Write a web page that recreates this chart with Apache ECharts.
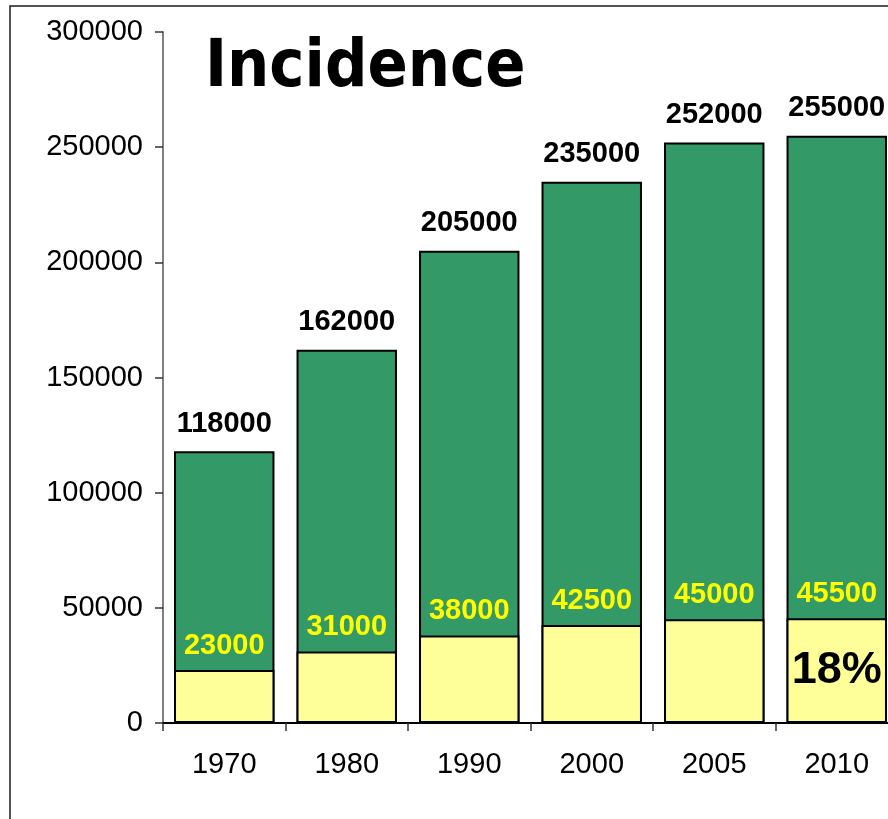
<!DOCTYPE html>
<html>
<head>
<meta charset="utf-8">
<script src="https://cdn.jsdelivr.net/npm/echarts@6/dist/echarts.min.js"></script>
<style>
html,body{margin:0;padding:0;background:#fff;}
#main{width:888px;height:819px;}
</style>
</head>
<body>
<div id="main"></div>
<script>
const years = ['1970', '1980', '1990', '2000', '2005', '2010'];
const totalCases = [118000, 162000, 205000, 235000, 252000, 255000];
const subsetCases = [23000, 31000, 38000, 42500, 45000, 45500];
const shareLabels = ['', '', '', '', '', '18%'];
const yTicks = [0, 50000, 100000, 150000, 200000, 250000, 300000];

const chart = echarts.init(document.getElementById('main'));
const lblFont = '"Liberation Sans", Arial, sans-serif';
chart.setOption({
  animation: false,
  backgroundColor: '#ffffff',
  graphic: [
    {
      type: 'rect',
      shape: { x: 10, y: 6, width: 1000, height: 1000 },
      style: { fill: 'none', stroke: '#1a1a1a', lineWidth: 1.5 },
      silent: true,
      z: 100
    },
    {
      type: 'text',
      x: 205,
      y: 69,
      style: {
        text: 'Incidence',
        fontFamily: '"DejaVu Sans Condensed", "DejaVu Sans", sans-serif',
        fontWeight: 'bold',
        fontSize: 66,
        fill: '#000',
        verticalAlign: 'middle',
        align: 'left'
      },
      z: 100
    }
  ],
  grid: { left: 163, top: 32, bottom: 96, width: 735, containLabel: false, outerBoundsMode: 'none' },
  xAxis: {
    type: 'category',
    data: years,
    axisLine: { lineStyle: { color: '#000', width: 2 } },
    axisTick: { show: true, length: 8, lineStyle: { color: '#333', width: 1.5 } },
    axisLabel: { color: '#000', fontSize: 29, fontFamily: lblFont, margin: 27 }
  },
  yAxis: {
    type: 'value',
    min: yTicks[0],
    max: yTicks[yTicks.length - 1],
    interval: yTicks[1] - yTicks[0],
    axisLine: { show: true, lineStyle: { color: '#808080', width: 2 } },
    axisTick: { show: true, length: 8, lineStyle: { color: '#333', width: 1.5 } },
    splitLine: { show: false },
    axisLabel: { color: '#000', fontSize: 29, fontFamily: lblFont, margin: 20, formatter: v => String(v) }
  },
  series: [
    {
      type: 'bar',
      data: totalCases,
      barGap: '-100%',
      barCategoryGap: '18%',
      itemStyle: { color: '#339966', borderColor: '#000', borderWidth: 2 },
      label: {
        show: true, position: 'top', distance: 13,
        color: '#000', fontWeight: 'bold', fontSize: 29, fontFamily: lblFont
      }
    },
    {
      type: 'bar',
      data: subsetCases,
      barGap: '-100%',
      barCategoryGap: '18%',
      itemStyle: { color: '#FFFF99', borderColor: '#000', borderWidth: 2 },
      label: {
        show: true, position: 'top', distance: 10,
        color: '#FFFF00', fontWeight: 'bold', fontSize: 29, fontFamily: lblFont
      }
    },
    {
      type: 'bar',
      data: subsetCases,
      barGap: '-100%',
      barCategoryGap: '18%',
      silent: true,
      itemStyle: { color: 'rgba(0,0,0,0)', borderWidth: 0 },
      label: {
        show: true, position: 'inside',
        formatter: p => shareLabels[p.dataIndex],
        color: '#000', fontWeight: 'bold', fontSize: 45, fontFamily: lblFont
      }
    }
  ]
});
</script>
</body>
</html>
